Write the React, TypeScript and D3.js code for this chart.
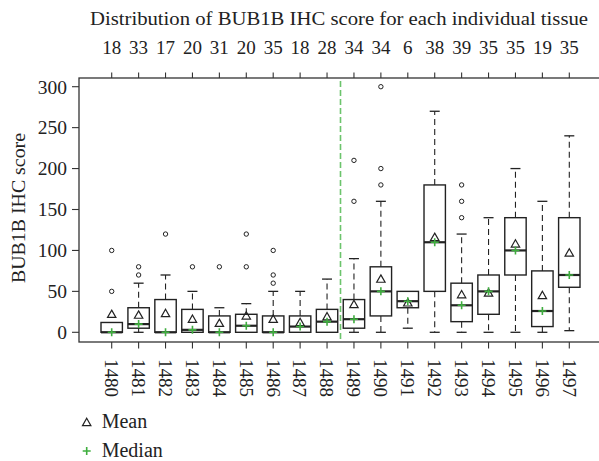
import React from "react";
import * as d3 from "d3";

const tissues = ["1480","1481","1482","1483","1484","1485","1486","1487","1488","1489","1490","1491","1492","1493","1494","1495","1496","1497"];
const counts = [18,33,17,20,31,20,35,18,28,34,34,6,38,39,35,35,19,35];
const q1 = [0,5,0,0,0,0,0,0,0,5,20,30,50,13,22,70,7,55];
const medians = [0,10,0,3,0,8,0,7,13,16,50,38,110,33,50,100,26,70];
const q3 = [12,30,40,28,20,22,20,20,28,40,80,50,180,60,70,140,75,140];
const whiskerLow = [0,0,0,0,0,0,0,0,0,0,0,5,0,0,0,0,0,2];
const whiskerHigh = [12,60,70,50,30,35,50,50,65,90,160,50,270,120,140,200,160,240];
const means = [22,21,23,16,11,20,16,12,19,34,65,36,116,46,48,108,45,97];
const outliers: number[][] = [[50,100],[70,80],[120],[80],[80],[80,120],[60,70,100],[],[],[160,210],[180,200,300],[],[],[140,160,180],[],[],[],[]];
const yTicks = [0,50,100,150,200,250,300];
const dividerAfter = 8; // dashed line between 1488 and 1489

const FONT = "'Liberation Serif', 'Times New Roman', serif";
const GREEN = "#3fae3f";

export default function App() {
  const W = 599, H = 461;
  const frame = { left: 79, right: 602, top: 78, bottom: 342 };
  const x = d3.scaleLinear().domain([0, tissues.length - 1]).range([111.7, 569.3]);
  const y = d3.scaleLinear().domain([0, 300]).range([332.3, 86.7]);
  const bw = 10.7;
  const cap = 5;
  const tri = (cx: number, cy: number, s = 4.2) =>
    `M${cx},${cy - s}L${cx + s},${cy + s * 0.75}L${cx - s},${cy + s * 0.75}Z`;
  const plus = (cx: number, cy: number, s = 4) =>
    `M${cx - s},${cy}H${cx + s}M${cx},${cy - s}V${cy + s}`;

  return (
    <svg width={W} height={H} style={{ position: "absolute", left: 0, top: 0, background: "#fff" }} fontFamily={FONT}>
      <rect x={0} y={0} width={W} height={H} fill="#fff" />
      {/* title */}
      <text x={90} y={24.7} fontSize={19} textLength={498} lengthAdjust="spacingAndGlyphs" fill="#222">
        Distribution of BUB1B IHC score for each individual tissue
      </text>
      {counts.map((c, i) => (
        <text key={"n" + i} x={x(i)} y={54} fontSize={19} textAnchor="middle" fill="#222">{c}</text>
      ))}
      {/* frame */}
      <rect x={frame.left} y={frame.top} width={frame.right - frame.left} height={frame.bottom - frame.top}
        fill="none" stroke="#333" strokeWidth={1.3} />
      {/* y axis */}
      {yTicks.map((t) => (
        <g key={"y" + t}>
          <line x1={72} x2={frame.left} y1={y(t)} y2={y(t)} stroke="#333" strokeWidth={1.1} />
          <text x={67} y={y(t)} dy="0.35em" fontSize={19.5} textAnchor="end" fill="#222">{t}</text>
        </g>
      ))}
      <text transform="translate(25,208) rotate(-90)" fontSize={19} textAnchor="middle" textLength={150}
        lengthAdjust="spacingAndGlyphs" fill="#222">BUB1B IHC score</text>
      {/* x ticks top & bottom, labels */}
      {tissues.map((t, i) => (
        <g key={"x" + t}>
          <line x1={x(i)} x2={x(i)} y1={frame.top} y2={frame.top - 5.5} stroke="#333" strokeWidth={1.1} />
          <line x1={x(i)} x2={x(i)} y1={frame.bottom} y2={frame.bottom + 6.5} stroke="#333" strokeWidth={1.1} />
          <text transform={`translate(${x(i)},359) rotate(90)`} dy="0.35em" fontSize={19} fill="#222">{t}</text>
        </g>
      ))}
      {/* divider */}
      <line x1={(x(dividerAfter) + x(dividerAfter + 1)) / 2} x2={(x(dividerAfter) + x(dividerAfter + 1)) / 2}
        y1={frame.top + 3} y2={frame.bottom} stroke="#6cc46c" strokeWidth={1.6} strokeDasharray="6,3" />
      {/* boxes */}
      {tissues.map((t, i) => {
        const cx = x(i);
        return (
          <g key={"b" + t}>
            {whiskerHigh[i] > q3[i] && (
              <>
                <line x1={cx} x2={cx} y1={y(q3[i])} y2={y(whiskerHigh[i])} stroke="#222" strokeWidth={1.1} strokeDasharray="6,4" />
                <line x1={cx - cap} x2={cx + cap} y1={y(whiskerHigh[i])} y2={y(whiskerHigh[i])} stroke="#222" strokeWidth={1.3} />
              </>
            )}
            {whiskerLow[i] < q1[i] && (
              <>
                <line x1={cx} x2={cx} y1={y(q1[i])} y2={y(whiskerLow[i])} stroke="#222" strokeWidth={1.1} strokeDasharray="6,4" />
                <line x1={cx - cap} x2={cx + cap} y1={y(whiskerLow[i])} y2={y(whiskerLow[i])} stroke="#222" strokeWidth={1.3} />
              </>
            )}
            <rect x={cx - bw} y={y(q3[i])} width={bw * 2} height={y(q1[i]) - y(q3[i])} fill="none" stroke="#222" strokeWidth={1.4} />
            <line x1={cx - bw} x2={cx + bw} y1={y(medians[i])} y2={y(medians[i])} stroke="#222" strokeWidth={2.2} />
            {outliers[i].map((o, k) => (
              <circle key={k} cx={cx} cy={y(o)} r={2.2} fill="none" stroke="#222" strokeWidth={1} />
            ))}
            <path d={tri(cx, y(means[i]))} fill="none" stroke="#222" strokeWidth={1.2} />
            <path d={plus(cx, y(medians[i]))} stroke={GREEN} strokeWidth={1.6} />
          </g>
        );
      })}
      {/* legend */}
      <path d={tri(86.7, 422.5)} fill="none" stroke="#222" strokeWidth={1.2} />
      <text x={101.7} y={428} fontSize={20} fill="#222">Mean</text>
      <path d={plus(86.7, 451)} stroke={GREEN} strokeWidth={1.6} />
      <text x={101.7} y={456.5} fontSize={20} fill="#222">Median</text>
    </svg>
  );
}
